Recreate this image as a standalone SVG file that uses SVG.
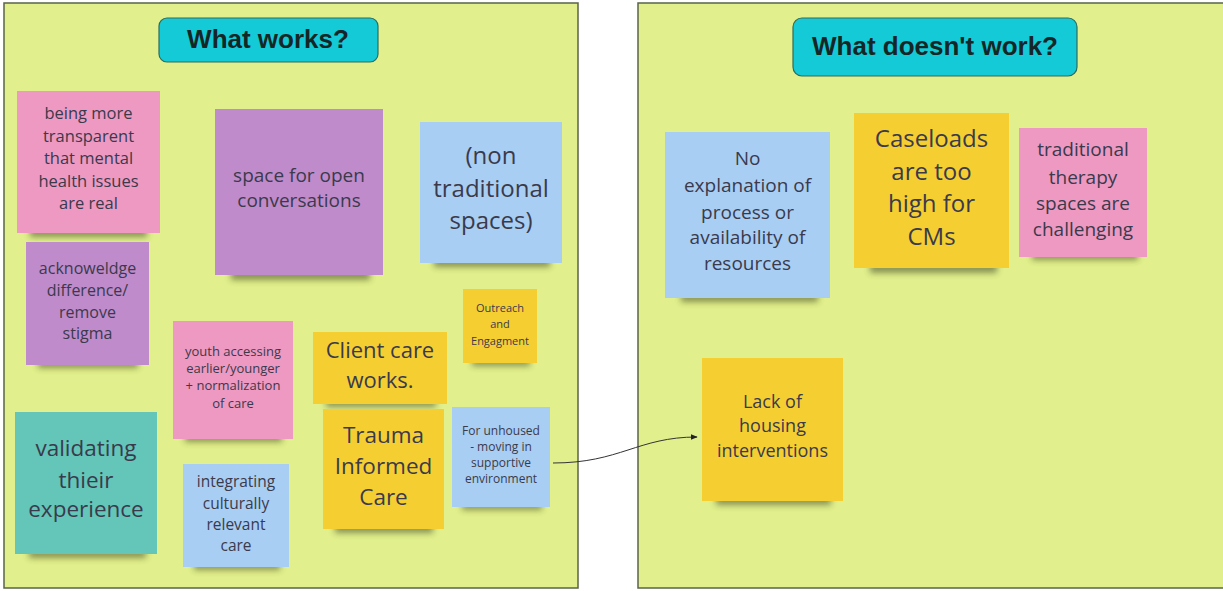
<svg xmlns="http://www.w3.org/2000/svg" width="1223" height="591" viewBox="0 0 1223 591">
<style>
.panel{fill:#E1EF8C;stroke:#5a6448;stroke-width:1.5}
.title{fill:#14CAD6;stroke:#2f6b5c;stroke-width:1.2}
.ttl{font-family:"Liberation Sans",Arial,sans-serif;font-weight:bold;font-size:26px;fill:#142626;text-anchor:middle}
.t{font-family:"Open Sans","DejaVu Sans",sans-serif;fill:#3a3a4c;text-anchor:middle}
.pink{fill:#EE99C1}
.purple{fill:#C08BCB}
.blue{fill:#A9CEF3}
.teal{fill:#63C6B8}
.yellow{fill:#F5CF31}
.sh{fill:#2e3418;opacity:0.5;filter:url(#blur)}
.conn{fill:none;stroke:#333;stroke-width:1}
</style>
<defs>
<filter id="blur" x="-20%" y="-150%" width="140%" height="400%"><feGaussianBlur stdDeviation="3"/></filter>
<marker id="arr" viewBox="0 0 10 10" refX="9" refY="5" markerWidth="7" markerHeight="7" orient="auto" markerUnits="userSpaceOnUse"><path d="M0,1 L10,5 L0,9 z" fill="#222"/></marker>
</defs>
<rect width="1223" height="591" fill="#fff"/>
<g id="panel-works"><rect class="panel" x="4" y="3" width="574" height="585"/></g>
<g id="panel-doesnt"><rect class="panel" x="638" y="3" width="592" height="585"/></g>
<g id="title-works"><rect class="title" x="159" y="18" width="219" height="44" rx="8"/><text class="ttl" x="268" y="48">What works?</text></g>
<g id="title-doesnt"><rect class="title" x="793" y="18" width="284" height="58" rx="9"/><text class="ttl" x="935" y="55">What doesn't work?</text></g>

<g id="n-transparent"><rect class="sh" x="30" y="228" width="117" height="9"/><rect class="pink" x="17" y="91" width="143" height="142"/>
<text class="t" font-size="16.5"><tspan x="88.5" y="119">being more</tspan><tspan x="88.5" y="142">transparent</tspan><tspan x="88.5" y="164">that mental</tspan><tspan x="88.5" y="187">health issues</tspan><tspan x="88.5" y="209">are real</tspan></text></g>

<g id="n-space"><rect class="sh" x="231" y="270" width="139" height="10"/><rect class="purple" x="215" y="109" width="168" height="166"/>
<text class="t" font-size="19"><tspan x="299" y="182">space for open</tspan><tspan x="299" y="207">conversations</tspan></text></g>

<g id="n-nontrad"><rect class="sh" x="434" y="258" width="116" height="9"/><rect class="blue" x="420" y="122" width="142" height="141"/>
<text class="t" font-size="24"><tspan x="491" y="163.5">(non</tspan><tspan x="491" y="196.5">traditional</tspan><tspan x="491" y="228.5">spaces)</tspan></text></g>

<g id="n-acknowledge"><rect class="sh" x="38" y="360" width="100" height="8"/><rect class="purple" x="26" y="242" width="123" height="123"/>
<text class="t" font-size="16"><tspan x="87.5" y="274">acknoweldge</tspan><tspan x="87.5" y="296">difference/</tspan><tspan x="87.5" y="318">remove</tspan><tspan x="87.5" y="339">stigma</tspan></text></g>

<g id="n-youth"><rect class="sh" x="185" y="434" width="97" height="8"/><rect class="pink" x="173" y="321" width="120" height="118"/>
<text class="t" font-size="13"><tspan x="233" y="355.5">youth accessing</tspan><tspan x="233" y="372.5">earlier/younger</tspan><tspan x="233" y="389.5">+ normalization</tspan><tspan x="233" y="407.5">of care</tspan></text></g>

<g id="n-validating"><rect class="sh" x="29" y="549" width="117" height="9"/><rect class="teal" x="15" y="412" width="142" height="142"/>
<text class="t" font-size="22.5"><tspan x="86" y="456">validating</tspan><tspan x="86" y="488">thieir</tspan><tspan x="86" y="517">experience</tspan></text></g>

<g id="n-integrating"><rect class="sh" x="194" y="562" width="86" height="8"/><rect class="blue" x="183" y="464" width="106" height="103"/>
<text class="t" font-size="15.5"><tspan x="236" y="486.5">integrating</tspan><tspan x="236" y="508.5">culturally</tspan><tspan x="236" y="529.5">relevant</tspan><tspan x="236" y="550.5">care</tspan></text></g>

<g id="n-client"><rect class="sh" x="326" y="399" width="110" height="8"/><rect class="yellow" x="313" y="332" width="134" height="72"/>
<text class="t" font-size="22"><tspan x="380" y="358">Client care</tspan><tspan x="380" y="388">works.</tspan></text></g>

<g id="n-trauma"><rect class="sh" x="335" y="524" width="98" height="9"/><rect class="yellow" x="323" y="409" width="121" height="120"/>
<text class="t" font-size="22.5"><tspan x="383.5" y="443">Trauma</tspan><tspan x="383.5" y="474">Informed</tspan><tspan x="383.5" y="505">Care</tspan></text></g>

<g id="n-outreach"><rect class="sh" x="472" y="359" width="58" height="7"/><rect class="yellow" x="463" y="289" width="74" height="74"/>
<text class="t" font-size="11"><tspan x="500" y="312">Outreach</tspan><tspan x="500" y="328">and</tspan><tspan x="500" y="345">Engagment</tspan></text></g>

<g id="n-unhoused"><rect class="sh" x="462" y="503" width="80" height="7"/><rect class="blue" x="452" y="407" width="98" height="100"/>
<text class="t" font-size="12"><tspan x="501" y="435">For unhoused</tspan><tspan x="501" y="451">- moving in</tspan><tspan x="501" y="467">supportive</tspan><tspan x="501" y="483">environment</tspan></text></g>

<g id="n-noexplanation"><rect class="sh" x="681" y="293" width="137" height="9"/><rect class="blue" x="665" y="132" width="165" height="166"/>
<text class="t" font-size="19"><tspan x="747.5" y="165">No</tspan><tspan x="747.5" y="192">explanation of</tspan><tspan x="747.5" y="219">process or</tspan><tspan x="747.5" y="244">availability of</tspan><tspan x="747.5" y="270">resources</tspan></text></g>

<g id="n-caseloads"><rect class="sh" x="870" y="263" width="127" height="10"/><rect class="yellow" x="854" y="113" width="155" height="155"/>
<text class="t" font-size="24"><tspan x="931.5" y="146.5">Caseloads</tspan><tspan x="931.5" y="180">are too</tspan><tspan x="931.5" y="211.5">high for</tspan><tspan x="931.5" y="244.5">CMs</tspan></text></g>

<g id="n-traditional"><rect class="sh" x="1032" y="252" width="106" height="8"/><rect class="pink" x="1019" y="128" width="128" height="129"/>
<text class="t" font-size="19"><tspan x="1083" y="156">traditional</tspan><tspan x="1083" y="184">therapy</tspan><tspan x="1083" y="210">spaces are</tspan><tspan x="1083" y="236">challenging</tspan></text></g>

<g id="n-lackhousing"><rect class="sh" x="716" y="496" width="115" height="9"/><rect class="yellow" x="702" y="358" width="141" height="143"/>
<text class="t" font-size="18"><tspan x="772.5" y="407.5">Lack of</tspan><tspan x="772.5" y="431.5">housing</tspan><tspan x="772.5" y="456.5">interventions</tspan></text></g>

<g id="connectors"><path class="conn" d="M553,463 C620,463 638,437 697,437" marker-end="url(#arr)"/></g>
</svg>
